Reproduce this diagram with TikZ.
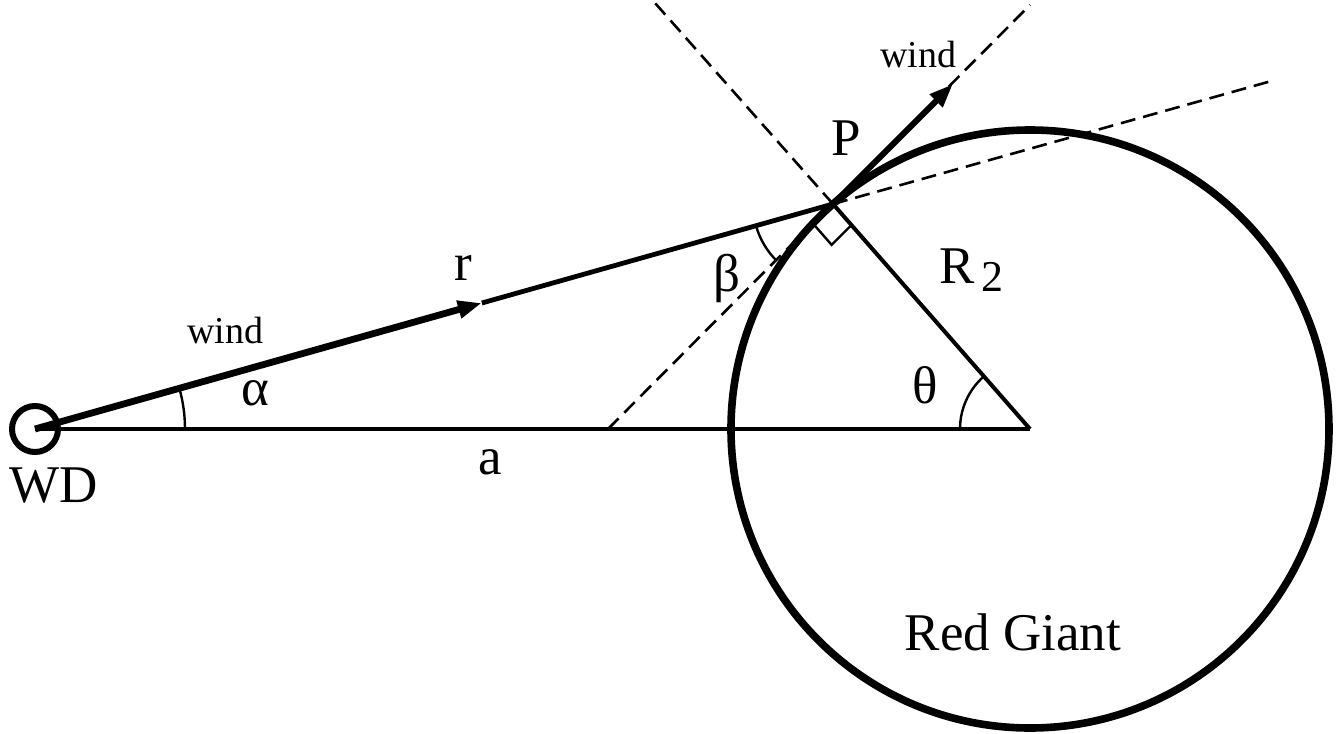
\documentclass[tikz,border=0pt]{standalone}
\usepackage{fontspec}
\setmainfont{Liberation Serif}
\usetikzlibrary{arrows.meta, calc, angles, positioning}

\begin{document}
\begin{tikzpicture}[x=0.5pt, y=-0.5pt,
        star/.style={circle, draw, inner sep=0pt},
        biglbl/.style={font=\fontsize{26.5}{31}\selectfont, inner sep=0pt},
        smalllbl/.style={font=\fontsize{19}{23}\selectfont, inner sep=0pt},
        guide/.style={dash pattern=on 7.5pt off 4pt, line width=1.3pt},
        arcmark/.style={draw, line width=1.2pt},
        flow/.style={-{Triangle[length=12pt, width=8.5pt]}, line width=3.4pt}
    ]
        \useasboundingbox (0,0) rectangle (1341,734);

        \coordinate (W) at (35,429);
        \coordinate (C) at (1030,429);
        \coordinate (P) at (833,204);
        \coordinate (T0) at (608,429);
        \coordinate (Tend) at (1030,5);
        \coordinate (Rend) at (655,3);
        \coordinate (Xend) at (1275,80);
        \coordinate (A) at ($(W)!0.56!(P)$);
        \coordinate (windtip) at (953,84);

        \node[star, minimum size=23pt, line width=3pt] (wd) at (W) {};
        \node[star, minimum size=299pt, line width=3.8pt] (rg) at (C) {};

        \draw[line width=2.4pt] (W) -- (C);
        \draw[flow] (W) -- (A);
        \draw[line width=2.4pt] (A) -- (P);
        \draw[guide] (P) -- (Xend);
        \draw[line width=2pt] (P) -- (C);
        \draw[guide] (P) -- (Rend);
        \draw[guide] (T0) -- (Tend);
        \draw[flow, line width=3pt] (P) -- (windtip);

        \pic[arcmark, angle radius=75pt] {angle=C--W--P};
        \pic[arcmark, angle radius=40pt] {angle=W--P--T0};
        \pic[arcmark, angle radius=35pt] {angle=P--C--W};
        \pic[arcmark, angle radius=14pt] {right angle=T0--P--C};

        \node[smalllbl] (windA) at (225,330) {wind};
        \node[biglbl] (alpha) at (255,393) {α};
        \node[biglbl] (rlbl) at (463,268) {r};
        \node[biglbl] (albl) at (490,462) {a};
        \node[biglbl] (wdlbl) at (54,486) {WD};
        \node[biglbl] (beta) at (727,278) {β};
        \node[biglbl] (plbl) at (846,138) {P};
        \node[biglbl] (Rlbl) at (957,266) {R};
        \node[font=\fontsize{22}{26}\selectfont, inner sep=0pt] (two) at (992,277) {2};
        \node[biglbl] (theta) at (925,385) {θ};
        \node[smalllbl] (windB) at (918,55) {wind};
        \node[biglbl] (rglbl) at (1013,632) {Red Giant};
    \end{tikzpicture}
\end{document}
